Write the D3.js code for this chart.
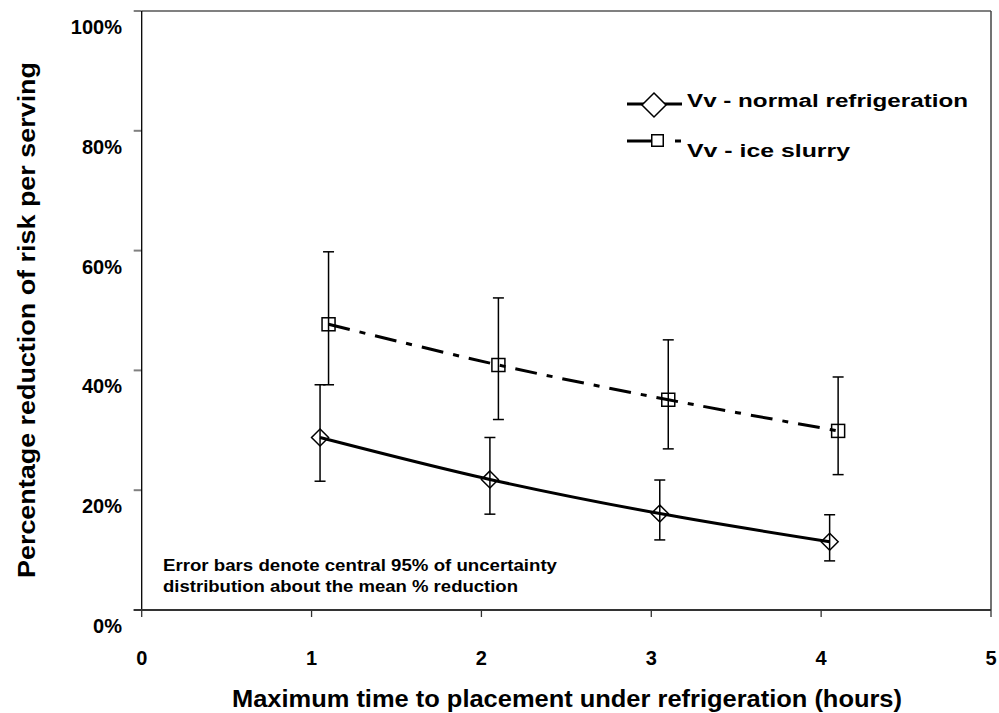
<!DOCTYPE html>
<html><head><meta charset="utf-8">
<script src="https://cdn.jsdelivr.net/npm/d3@7/dist/d3.min.js"></script>
<style>
html,body{margin:0;padding:0;background:#fff;}
text{font-family:"Liberation Sans",Arial,sans-serif;font-weight:bold;fill:#000;}
</style></head>
<body>
<svg id="chart" width="999" height="713"></svg>
<script>
// ---- data ----
const xTicks = [0, 1, 2, 3, 4, 5];
const yTicks = [0, 0.2, 0.4, 0.6, 0.8, 1.0];
const xNormal = [1.05, 2.05, 3.05, 4.05];
const normalMean = [28.8, 21.8, 16.1, 11.4];
const normalLow = [21.5, 16.0, 11.7, 8.2];
const normalHigh = [37.6, 28.8, 21.7, 15.9];
const xSlurry = [1.1, 2.1, 3.1, 4.1];
const slurryMean = [47.7, 40.9, 35.1, 29.9];
const slurryLow = [37.6, 31.8, 26.9, 22.6];
const slurryHigh = [59.8, 52.1, 45.1, 38.9];
const seriesNames = ["Vv - normal refrigeration", "Vv - ice slurry"];
const xTitle = "Maximum time to placement under refrigeration (hours)";
const yTitle = "Percentage reduction of risk per serving";
const noteLines = ["Error bars denote central 95% of uncertainty", "distribution about the mean % reduction"];

const svg = d3.select("#chart");
const x = d3.scaleLinear().domain([0, 5]).range([141.7, 991]);
const y = d3.scaleLinear().domain([0, 1]).range([610, 11]);

// plot area border
svg.append("line").attr("x1", x(0)).attr("x2", x(5)).attr("y1", y(1)).attr("y2", y(1))
  .attr("stroke", "#808080").attr("stroke-width", 2);
svg.append("line").attr("x1", x(5)).attr("x2", x(5)).attr("y1", y(1)).attr("y2", y(0))
  .attr("stroke", "#444").attr("stroke-width", 1.5);

// y axis
const yAx = svg.append("g");
yAx.selectAll("line.tk").data(yTicks).join("line")
  .attr("x1", x(0) - 8).attr("x2", x(0)).attr("y1", d => y(d)).attr("y2", d => y(d))
  .attr("stroke", "#808080").attr("stroke-width", 2);
yAx.append("line").attr("x1", x(0)).attr("x2", x(0)).attr("y1", y(1)).attr("y2", y(0))
  .attr("stroke", "#000").attr("stroke-width", 1.3);
yAx.selectAll("text").data(yTicks).join("text")
  .attr("x", 122).attr("y", d => y(d) + 23).attr("text-anchor", "end")
  .attr("font-size", 20).text(d => d3.format(".0%")(d));

// x axis
const xAx = svg.append("g");
xAx.selectAll("line.tk").data(xTicks).join("line")
  .attr("x1", d => x(d)).attr("x2", d => x(d)).attr("y1", y(0)).attr("y2", y(0) + 7)
  .attr("stroke", "#333").attr("stroke-width", 1.3);
xAx.append("line").attr("x1", x(0) - 8).attr("x2", x(5)).attr("y1", y(0)).attr("y2", y(0))
  .attr("stroke", "#333").attr("stroke-width", 2);
xAx.selectAll("text").data(xTicks).join("text")
  .attr("x", d => x(d)).attr("y", 665).attr("text-anchor", "middle")
  .attr("font-size", 20).text(d => d);

// titles
svg.append("text").attr("x", 567).attr("y", 707).attr("text-anchor", "middle")
  .attr("font-size", 23).attr("textLength", 670).attr("lengthAdjust", "spacingAndGlyphs").text(xTitle);
svg.append("text").attr("transform", "translate(35,320) rotate(-90)").attr("text-anchor", "middle")
  .attr("font-size", 23).attr("textLength", 516).attr("lengthAdjust", "spacingAndGlyphs").text(yTitle);

// note
const noteLen = [394, 355];
svg.selectAll("text.note").data(noteLines).join("text").attr("class", "note")
  .attr("x", 163).attr("y", (d, i) => 571 + i * 21).attr("font-size", 17)
  .attr("textLength", (d, i) => noteLen[i]).attr("lengthAdjust", "spacingAndGlyphs").text(d => d);

// series
const normal = xNormal.map((v, i) => ({x: v, m: normalMean[i] / 100, lo: normalLow[i] / 100, hi: normalHigh[i] / 100}));
const slurry = xSlurry.map((v, i) => ({x: v, m: slurryMean[i] / 100, lo: slurryLow[i] / 100, hi: slurryHigh[i] / 100}));

function errorBars(data) {
  const g = svg.append("g").attr("stroke", "#000").attr("stroke-width", 1.5);
  data.forEach(d => {
    g.append("line").attr("x1", x(d.x)).attr("x2", x(d.x)).attr("y1", y(d.lo)).attr("y2", y(d.hi));
    g.append("line").attr("x1", x(d.x) - 5.5).attr("x2", x(d.x) + 5.5).attr("y1", y(d.lo)).attr("y2", y(d.lo));
    g.append("line").attr("x1", x(d.x) - 5.5).attr("x2", x(d.x) + 5.5).attr("y1", y(d.hi)).attr("y2", y(d.hi));
  });
}
errorBars(normal);
errorBars(slurry);

const line = d3.line().x(d => x(d.x)).y(d => y(d.m)).curve(d3.curveCatmullRom.alpha(0.5));
svg.append("path").datum(normal).attr("d", line).attr("fill", "none")
  .attr("stroke", "#000").attr("stroke-width", 3);
svg.append("path").datum(slurry).attr("d", line).attr("fill", "none")
  .attr("stroke", "#000").attr("stroke-width", 3).attr("stroke-dasharray", "22,10,6,10");

function diamond(g, cx, cy, r, fill) {
  g.append("path").attr("d", `M${cx},${cy - r}L${cx + r},${cy}L${cx},${cy + r}L${cx - r},${cy}Z`)
    .attr("fill", fill || "none").attr("stroke", "#000").attr("stroke-width", 1.5);
}
function square(g, cx, cy, s, fill) {
  g.append("rect").attr("x", cx - s / 2).attr("y", cy - s / 2).attr("width", s).attr("height", s)
    .attr("fill", fill || "none").attr("stroke", "#000").attr("stroke-width", 1.5);
}
const mk = svg.append("g");
normal.forEach(d => diamond(mk, x(d.x), y(d.m), 8.5));
slurry.forEach(d => square(mk, x(d.x), y(d.m), 13));

// legend
const lg = svg.append("g");
lg.append("line").attr("x1", 627).attr("x2", 682).attr("y1", 104).attr("y2", 104)
  .attr("stroke", "#000").attr("stroke-width", 3);
diamond(lg, 654, 105, 12, "#fff");
lg.append("line").attr("x1", 627).attr("x2", 681).attr("y1", 141).attr("y2", 141)
  .attr("stroke", "#000").attr("stroke-width", 3).attr("stroke-dasharray", "26,22,6,10");
square(lg, 657.5, 140.5, 11.5, "#fff");
const legLen = [281, 163];
lg.selectAll("text").data(seriesNames).join("text")
  .attr("x", 687).attr("y", (d, i) => 107 + i * 50).attr("font-size", 18)
  .attr("textLength", (d, i) => legLen[i]).attr("lengthAdjust", "spacingAndGlyphs").text(d => d);
</script>
</body></html>
